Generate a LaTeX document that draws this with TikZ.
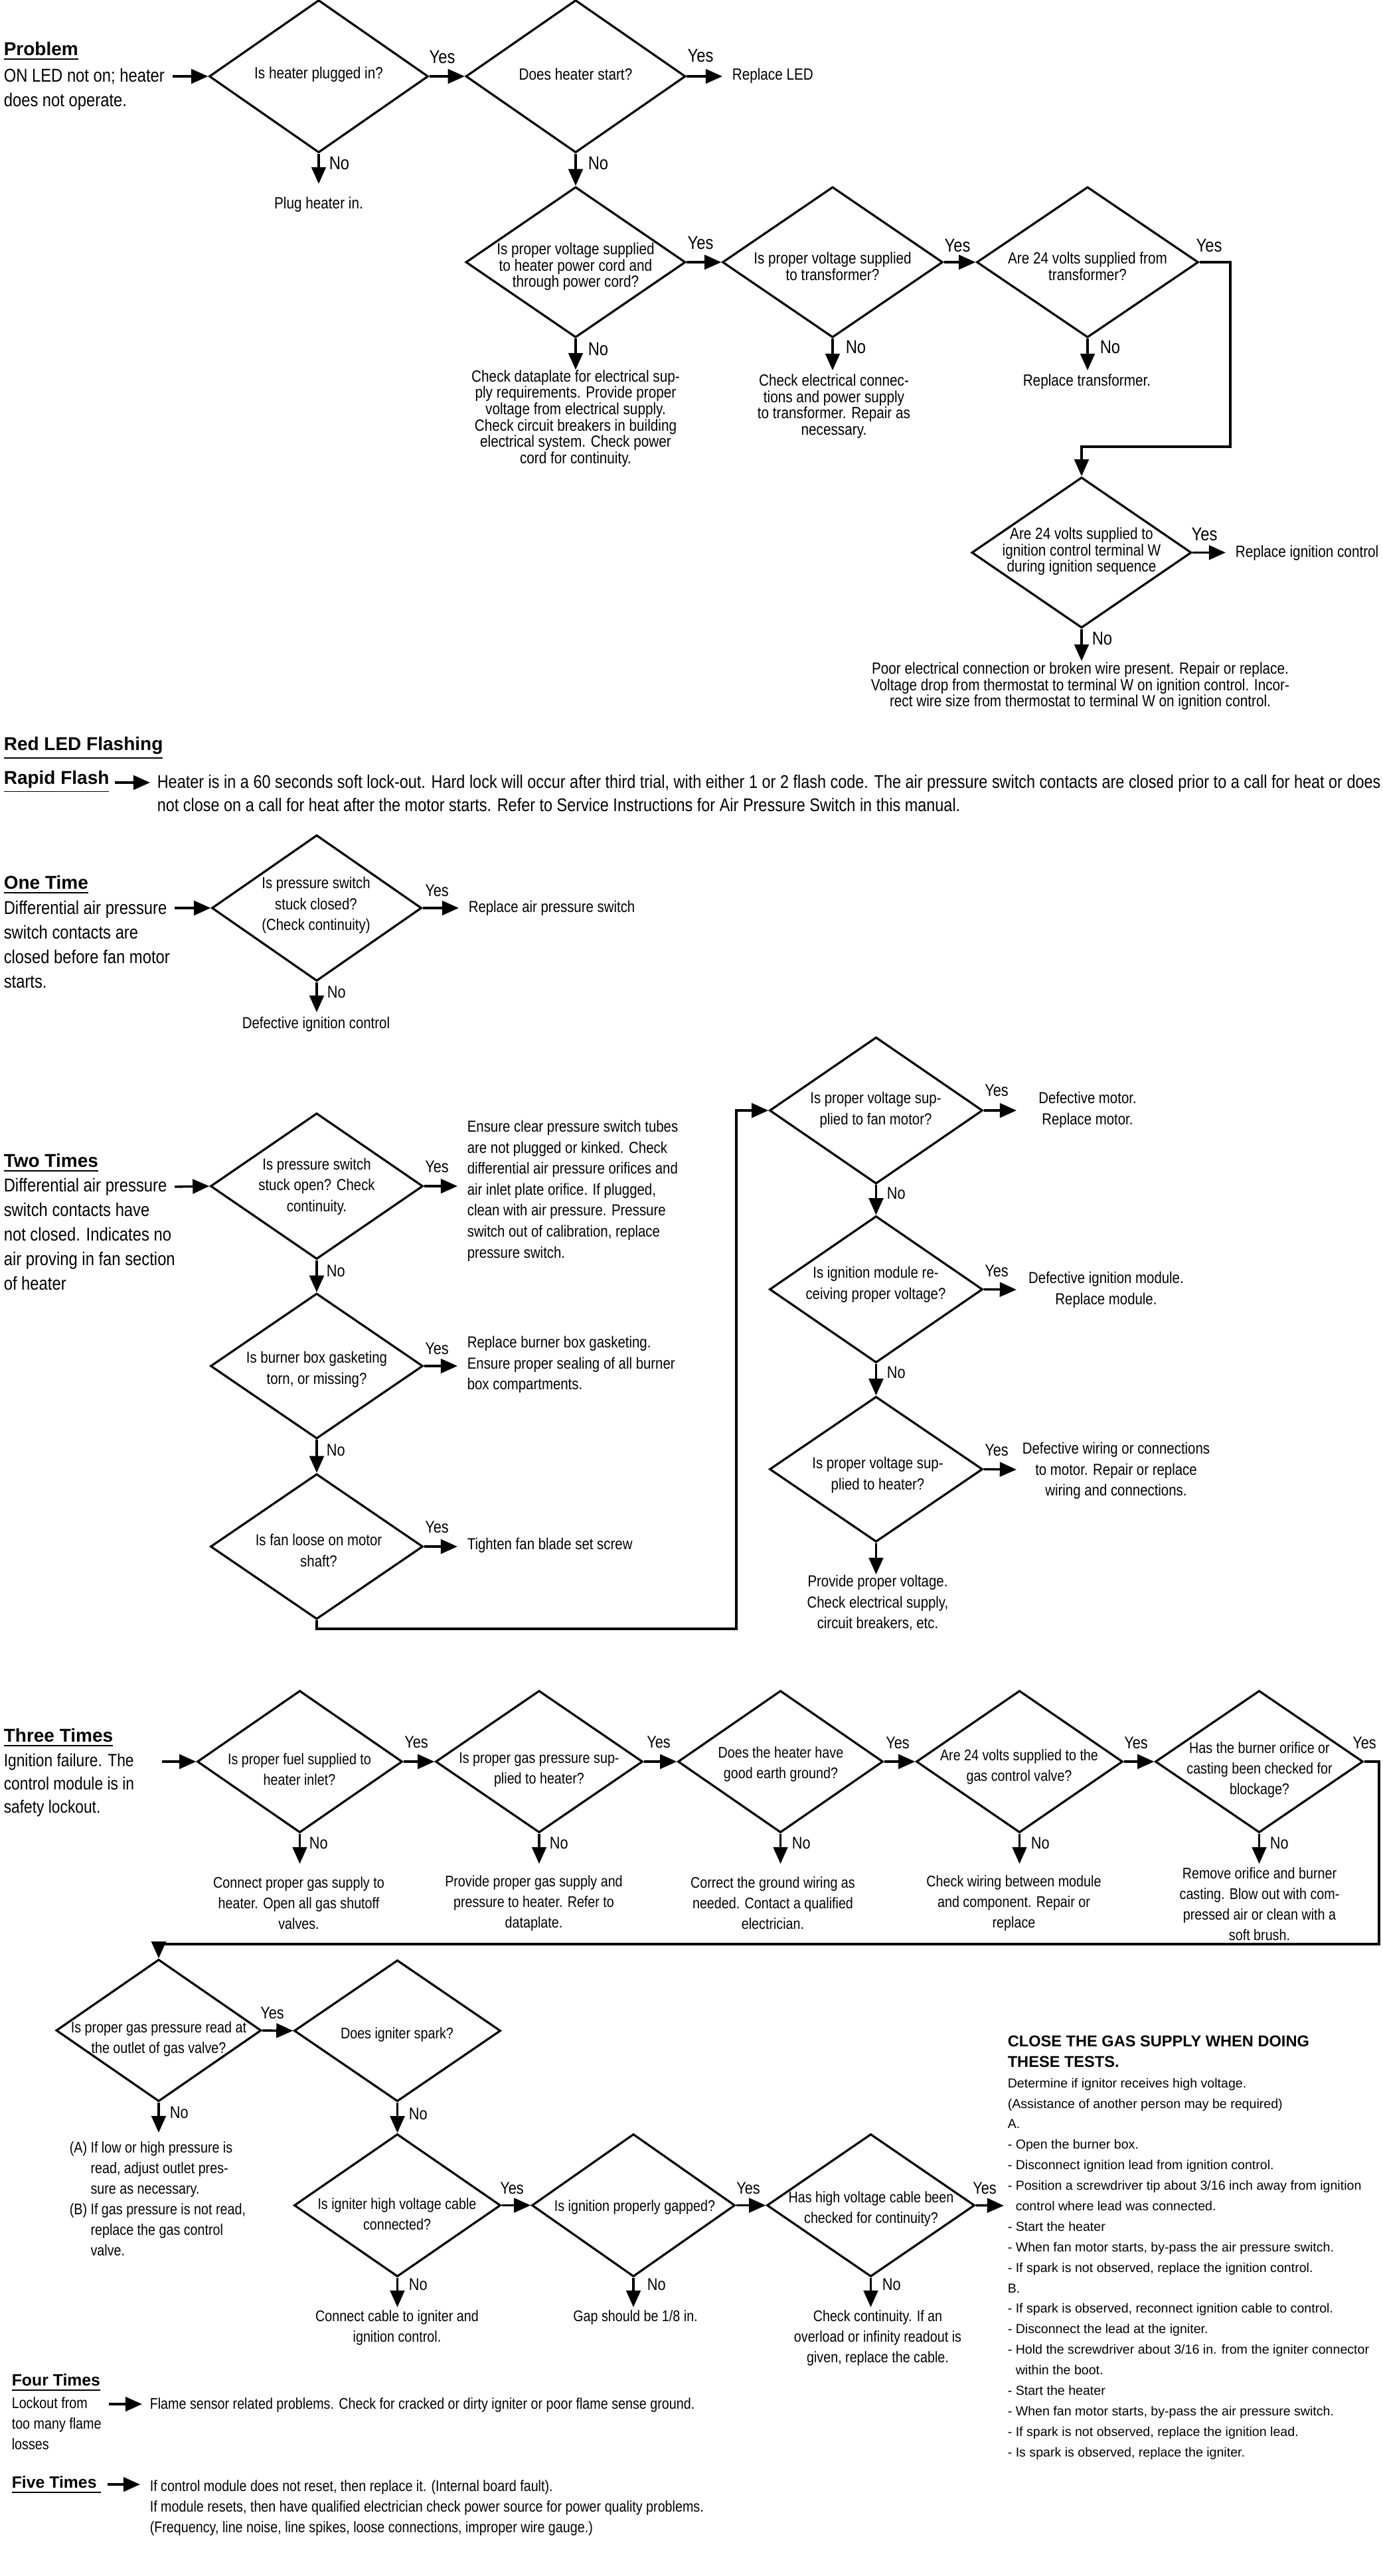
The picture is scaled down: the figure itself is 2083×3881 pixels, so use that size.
\documentclass[tikz,border=0pt]{standalone}
\usepackage{fontspec}
\setmainfont{Liberation Sans}
\newfontfamily\nf[FakeStretch=0.85]{Liberation Sans}
\usetikzlibrary{shapes.geometric,arrows.meta}
\newcommand{\fs}[2]{\fontsize{#1}{#2}\selectfont}
\begin{document}
\begin{tikzpicture}[x=0.25pt,y=-0.25pt,
  dia/.style 2 args={draw, diamond, line width=0.8pt, inner sep=0pt, minimum width=#1*0.25pt, minimum height=#2*0.25pt},
  arr/.style={line width=0.85pt, -{Triangle[length=6.3pt,width=5.4pt]}},
  lnk/.style={line width=0.85pt},
  qT/.style={align=center, inner sep=0pt, font=\nf\fs{6.1}{6.15}},
  sideT/.style={align=left, inner xsep=3.5pt, inner ysep=0pt, font=\nf\fs{6.1}{6.15}},
  qM/.style={align=center, inner sep=0pt, font=\nf\fs{6}{7.9}},
  sideM/.style={align=left, inner xsep=3.5pt, inner ysep=0pt, font=\nf\fs{6}{7.9}},
  qB/.style={align=center, inner sep=0pt, font=\nf\fs{5.8}{7.75}},
  desc/.style={align=left, inner sep=0pt, font=\nf\fs{7}{9.2}},
  descB/.style={align=left, inner sep=0pt, font=\nf\fs{6.7}{8.75}},
  head/.style={inner sep=0pt, font=\bfseries\fs{7}{8}},
  headS/.style={inner sep=0pt, font=\bfseries\fs{6.2}{7}},
  labT/.style={inner sep=0pt, font=\nf\fs{7}{7}},
  labM/.style={inner sep=0pt, font=\nf\fs{6.4}{6.4}},
  closeT/.style={align=left, inner sep=0pt, font=\fs{4.9}{7.72}}
]
\fill[white] (0,0) rectangle (2083,3881);
\useasboundingbox (0,0) rectangle (2083,3881);

% ================= Problem =================
\node[head,anchor=west] (hProb) at (5,77) {\underline{Problem}};
\node[desc,anchor=west] (tProb) at (5,134.5) {ON LED not on; heater\\does not operate.};
\coordinate (p0) at (260,115);
\node[dia={330}{230}] (d1) at (480,115) {};
\node[qT] (d1t) at (480,112) {Is heater plugged in?};
\node[dia={331}{230}] (d2) at (867,115) {};
\node[qT] (d2t) at (867,112) {Does heater start?};
\draw[arr] (p0) -- (d1.west);
\draw[arr] (d1.east) -- (d2.west);
\node[labT] at (666,86) {Yes};
\node[sideT,anchor=west] (r2) at (1088,114) {Replace LED};
\draw[arr] (d2.east) -- (d2.east -| r2.west);
\node[labT] at (1055,84) {Yes};
\coordinate (n1) at (480,277);
\draw[arr] (d1.south) -- (n1);
\node[labT,anchor=west] at (495,246) {No};
\node[qT] (r1) at (480,308) {Plug heater in.};

\node[dia={331}{227}] (d3) at (867,395) {};
\node[qT] at (867,402) {Is proper voltage supplied\\to heater power cord and\\through power cord?};
\draw[arr] (d2.south) -- (d3.north);
\node[labT,anchor=west] at (885,246) {No};
\coordinate (n3) at (867,557);
\draw[arr] (d3.south) -- (n3);
\node[labT,anchor=west] at (885,526) {No};
\node[qT] (r3) at (867,630.5) {Check dataplate for electrical sup-\\ply requirements. Provide proper\\voltage from electrical supply.\\Check circuit breakers in building\\electrical system. Check power\\cord for continuity.};

\node[dia={332}{227}] (d4) at (1254,395) {};
\node[qT] at (1254,401.5) {Is proper voltage supplied\\to transformer?};
\draw[arr] (d3.east) -- (d4.west);
\node[labT] at (1055,366) {Yes};
\coordinate (n4) at (1254,558);
\draw[arr] (d4.south) -- (n4);
\node[labT,anchor=west] at (1273,523) {No};
\node[qT] (r4) at (1256,612) {Check electrical connec-\\tions and power supply\\to transformer. Repair as\\necessary.};

\node[dia={334}{227}] (d5) at (1638,395) {};
\node[qT] at (1638,401.5) {Are 24 volts supplied from\\transformer?};
\draw[arr] (d4.east) -- (d5.west);
\node[labT] at (1442,370) {Yes};
\coordinate (n5) at (1638,558);
\draw[arr] (d5.south) -- (n5);
\node[labT,anchor=west] at (1656,523) {No};
\node[qT] (r5) at (1637,575) {Replace transformer.};

\node[dia={331}{227}] (d6) at (1629,832.5) {};
\node[qT] at (1629,831) {Are 24 volts supplied to\\ignition control terminal W\\during ignition sequence};
\coordinate (b1) at (1853,673);
\draw[arr] (d5.east) -| (b1) -| (d6.north);
\node[labT] at (1821,370) {Yes};
\node[sideT,anchor=west] (r6) at (1846,833) {Replace ignition control};
\draw[arr] (d6.east) -- (d6.east -| r6.west);
\node[labT] at (1814,805) {Yes};
\coordinate (n6) at (1629,996);
\draw[arr] (d6.south) -- (n6);
\node[labT,anchor=west] at (1644,962) {No};
\node[qT] (r6b) at (1627,1034) {Poor electrical connection or broken wire present. Repair or replace.\\Voltage drop from thermostat to terminal W on ignition control. Incor-\\rect wire size from thermostat to terminal W on ignition control.};

% ================= Red LED Flashing =================
\node[head,anchor=west] (hRed) at (5,1127) {\underline{Red LED Flashing}};
\node[head,anchor=west] (hRapid) at (5,1178) {\underline{Rapid Flash}};
\coordinate (pR) at (173,1179);
\node[align=left, inner xsep=2.5pt, inner ysep=0pt, font=\nf\fs{6.9}{8.75}, anchor=west] (tRapid) at (226,1195.5) {Heater is in a 60 seconds soft lock-out. Hard lock will occur after third trial, with either 1 or 2 flash code. The air pressure switch contacts are closed prior to a call for heat or does\\not close on a call for heat after the motor starts. Refer to Service Instructions for Air Pressure Switch in this manual.};
\draw[arr] (pR) -- (pR -| tRapid.west);

% ================= One Time =================
\node[head,anchor=west] (hOne) at (5,1333) {\underline{One Time}};
\node[desc,anchor=west] (tOne) at (5,1423) {Differential air pressure\\switch contacts are\\closed before fan motor\\starts.};
\coordinate (p7) at (263,1368);
\node[dia={316}{220}] (d7) at (477,1368) {};
\node[qM] at (476,1364) {Is pressure switch\\stuck closed?\\(Check continuity)};
\draw[arr] (p7) -- (d7.west);
\node[sideM,anchor=west] (r7) at (691,1368) {Replace air pressure switch};
\draw[arr] (d7.east) -- (d7.east -| r7.west);
\node[labM] at (658,1342) {Yes};
\coordinate (n7) at (477,1525);
\draw[arr] (d7.south) -- (n7);
\node[labM,anchor=west] at (492,1495) {No};
\node[qM] (r7b) at (476,1543) {Defective ignition control};

% ================= Two Times =================
\node[head,anchor=west] (hTwo) at (5,1752) {\underline{Two Times}};
\node[desc,anchor=west] (tTwo) at (5,1859.5) {Differential air pressure\\switch contacts have\\not closed. Indicates no\\air proving in fan section\\of heater};
\coordinate (p8) at (263,1788);
\node[dia={320}{220}] (d8) at (477,1787) {};
\node[qM] at (477,1787.5) {Is pressure switch\\stuck open? Check\\continuity.};
\draw[arr] (p8) -- (d8.west);
\node[sideM,anchor=west] (r8) at (689,1794) {Ensure clear pressure switch tubes\\are not plugged or kinked. Check\\differential air pressure orifices and\\air inlet plate orifice. If plugged,\\clean with air pressure. Pressure\\switch out of calibration, replace\\pressure switch.};
\draw[arr] (d8.east) -- (d8.east -| r8.west);
\node[labM] at (658,1758) {Yes};

\node[dia={320}{219}] (d9) at (477,2058) {};
\node[qM] at (477,2063) {Is burner box gasketing\\torn, or missing?};
\draw[arr] (d8.south) -- (d9.north);
\node[labM,anchor=west] at (491,1915) {No};
\node[sideM,anchor=west] (r9) at (689,2056) {Replace burner box gasketing.\\Ensure proper sealing of all burner\\box compartments.};
\draw[arr] (d9.east) -- (d9.east -| r9.west);
\node[labM] at (658,2032) {Yes};

\node[dia={320}{219}] (d10) at (477,2330) {};
\node[qM] at (480,2336) {Is fan loose on motor\\shaft?};
\draw[arr] (d9.south) -- (d10.north);
\node[labM,anchor=west] at (491,2185) {No};
\node[sideM,anchor=west] (r10) at (689,2328) {Tighten fan blade set screw};
\draw[arr] (d10.east) -- (d10.east -| r10.west);
\node[labM] at (658,2301) {Yes};

\node[dia={321}{221}] (d11) at (1319.5,1673) {};
\node[qM] at (1319,1672) {Is proper voltage sup-\\plied to fan motor?};
\coordinate (b2) at (1109,2454);
\draw[arr] (d10.south) |- (b2) |- (d11.west);
\coordinate (y11) at (1531,1673);
\draw[arr] (d11.east) -- (y11);
\node[labM] at (1501,1643) {Yes};
\node[qM] (r11) at (1638,1672) {Defective motor.\\Replace motor.};

\node[dia={321}{221}] (d12) at (1319.5,1942.5) {};
\node[qM] at (1319,1935) {Is ignition module re-\\ceiving proper voltage?};
\draw[arr] (d11.south) -- (d12.north);
\node[labM,anchor=west] at (1335,1798) {No};
\coordinate (y12) at (1531,1943);
\draw[arr] (d12.east) -- (y12);
\node[labM] at (1501,1915) {Yes};
\node[qM] (r12) at (1666,1943) {Defective ignition module.\\Replace module.};

\node[dia={321}{219}] (d13) at (1319.5,2213.5) {};
\node[qM] at (1322,2222) {Is proper voltage sup-\\plied to heater?};
\draw[arr] (d12.south) -- (d13.north);
\node[labM,anchor=west] at (1335,2068) {No};
\coordinate (y13) at (1531,2214);
\draw[arr] (d13.east) -- (y13);
\node[labM] at (1501,2185) {Yes};
\node[qM] (r13) at (1681,2216) {Defective wiring or connections\\to motor. Repair or replace\\wiring and connections.};
\coordinate (n13) at (1319.5,2372);
\draw[arr] (d13.south) -- (n13);
\node[qM] (r13b) at (1322,2415) {Provide proper voltage.\\Check electrical supply,\\circuit breakers, etc.};

% ================= Three Times =================
\node[head,anchor=west] (hThree) at (5,2618) {\underline{Three Times}};
\node[descB,anchor=west] (tThree) at (5,2690) {Ignition failure. The\\control module is in\\safety lockout.};
\coordinate (p14) at (244,2654);
\node[dia={309}{214}] (d14) at (451.5,2654) {};
\node[qB] at (451,2666) {Is proper fuel supplied to\\heater inlet?};
\draw[arr] (p14) -- (d14.west);
\node[dia={312}{214}] (d15) at (812,2654) {};
\node[qB] at (812,2666) {Is proper gas pressure sup-\\plied to heater?};
\draw[arr] (d14.east) -- (d15.west);
\node[labM] at (627,2625) {Yes};
\node[dia={309}{214}] (d16) at (1175.5,2654) {};
\node[qB] at (1176,2658) {Does the heater have\\good earth ground?};
\draw[arr] (d15.east) -- (d16.west);
\node[labM] at (992,2625) {Yes};
\node[dia={311}{214}] (d17) at (1535.5,2654) {};
\node[qB] at (1535,2662) {Are 24 volts supplied to the\\gas control valve?};
\draw[arr] (d16.east) -- (d17.west);
\node[labM] at (1352,2626) {Yes};
\node[dia={313}{214}] (d18) at (1896.5,2654) {};
\node[qB] at (1897,2666) {Has the burner orifice or\\casting been checked for\\blockage?};
\draw[arr] (d17.east) -- (d18.west);
\node[labM] at (1711,2626) {Yes};
\node[labM] at (2055,2626) {Yes};

\coordinate (n14) at (451.5,2808);
\draw[arr] (d14.south) -- (n14);
\node[labM,anchor=west] at (465,2777) {No};
\node[qB] at (450,2867) {Connect proper gas supply to\\heater. Open all gas shutoff\\valves.};
\coordinate (n15) at (812,2808);
\draw[arr] (d15.south) -- (n15);
\node[labM,anchor=west] at (827,2777) {No};
\node[qB] at (804,2867) {Provide proper gas supply and\\pressure to heater. Refer to\\dataplate.};
\coordinate (n16) at (1175.5,2808);
\draw[arr] (d16.south) -- (n16);
\node[labM,anchor=west] at (1192,2777) {No};
\node[qB] at (1164,2867) {Correct the ground wiring as\\needed. Contact a qualified\\electrician.};
\coordinate (n17) at (1535.5,2808);
\draw[arr] (d17.south) -- (n17);
\node[labM,anchor=west] at (1552,2777) {No};
\node[qB] at (1527,2867) {Check wiring between module\\and component. Repair or\\replace};
\coordinate (n18) at (1896.5,2808);
\draw[arr] (d18.south) -- (n18);
\node[labM,anchor=west] at (1912,2777) {No};
\node[qB] at (1897,2868.5) {Remove orifice and burner\\casting. Blow out with com-\\pressed air or clean with a\\soft brush.};

% ================= gas pressure / igniter =================
\node[dia={309}{214}] (d19) at (239,3059) {};
\node[qB] at (239,3072) {Is proper gas pressure read at\\the outlet of gas valve?};
\coordinate (b3) at (2077,2929);
\draw[arr] (d18.east) -| (b3) -| (d19.north);
\node[dia={311}{213}] (d20) at (598.5,3059.5) {};
\node[qB] at (598,3065) {Does igniter spark?};
\draw[arr] (d19.east) -- (d20.west);
\node[labM] at (410,3033) {Yes};
\coordinate (n19) at (239,3213);
\draw[arr] (d19.south) -- (n19);
\node[labM,anchor=west] at (255,3183) {No};
\node[qB,align=left,anchor=west] (tAB) at (104,3314.5) {(A) If low or high pressure is\\\phantom{(A) }read, adjust outlet pres-\\\phantom{(A) }sure as necessary.\\(B) If gas pressure is not read,\\\phantom{(B) }replace the gas control\\\phantom{(B) }valve.};

\node[dia={311}{215}] (d21) at (598.5,3322.5) {};
\node[qB] at (598,3336) {Is igniter high voltage cable\\connected?};
\draw[arr] (d20.south) -- (d21.north);
\node[labM,anchor=west] at (615,3185) {No};
\node[dia={306}{215}] (d22) at (954,3322.5) {};
\node[qB] at (956,3325) {Is ignition properly gapped?};
\draw[arr] (d21.east) -- (d22.west);
\node[labM] at (771,3297) {Yes};
\node[dia={313}{215}] (d23) at (1311.5,3322.5) {};
\node[qB] at (1312,3328) {Has high voltage cable been\\checked for continuity?};
\draw[arr] (d22.east) -- (d23.west);
\node[labM] at (1127,3297) {Yes};
\coordinate (y23) at (1512,3323);
\draw[arr] (d23.east) -- (y23);
\node[labM] at (1483,3297) {Yes};

\coordinate (n21) at (598.5,3476);
\draw[arr] (d21.south) -- (n21);
\node[labM,anchor=west] at (615,3442) {No};
\node[qB] at (598,3506.5) {Connect cable to igniter and\\ignition control.};
\coordinate (n22) at (954,3476);
\draw[arr] (d22.south) -- (n22);
\node[labM,anchor=west] at (974,3442) {No};
\node[qB] at (957,3491) {Gap should be 1/8 in.};
\coordinate (n23) at (1311.5,3476);
\draw[arr] (d23.south) -- (n23);
\node[labM,anchor=west] at (1328,3442) {No};
\node[qB] at (1322,3522) {Check continuity. If an\\overload or infinity readout is\\given, replace the cable.};

\node[closeT,anchor=west] (tClose) at (1517,3386) {{\bfseries\fontsize{5.9}{7.72}\selectfont CLOSE THE GAS SUPPLY WHEN DOING}\\{\bfseries\fontsize{5.9}{7.72}\selectfont THESE TESTS.}\\Determine if ignitor receives high voltage.\\(Assistance of another person may be required)\\A.\\- Open the burner box.\\- Disconnect ignition lead from ignition control.\\- Position a screwdriver tip about 3/16 inch away from ignition\\\phantom{- }control where lead was connected.\\- Start the heater\\- When fan motor starts, by-pass the air pressure switch.\\- If spark is not observed, replace the ignition control.\\B.\\- If spark is observed, reconnect ignition cable to control.\\- Disconnect the lead at the igniter.\\- Hold the screwdriver about 3/16 in. from the igniter connector\\\phantom{- }within the boot.\\- Start the heater\\- When fan motor starts, by-pass the air pressure switch.\\- If spark is not observed, replace the ignition lead.\\- Is spark is observed, replace the igniter.};

% ================= Four / Five Times =================
\node[headS,anchor=west] (hFour) at (17,3590) {\underline{Four Times}};
\node[align=left, inner sep=0pt, font=\nf\fs{5.8}{7.75}, anchor=west] (tFour) at (17,3651) {Lockout from\\too many flame\\losses};
\coordinate (p4) at (164,3622);
\node[align=left, inner xsep=2.75pt, inner ysep=0pt, font=\nf\fs{5.8}{7.75}, anchor=west] (rFour) at (214,3623) {Flame sensor related problems. Check for cracked or dirty igniter or poor flame sense ground.};
\draw[arr] (p4) -- (p4 -| rFour.west);

\node[headS,anchor=west] (hFive) at (17,3744) {\underline{Five Times\ }};
\coordinate (p5) at (162,3743);
\node[align=left, inner xsep=3.5pt, inner ysep=0pt, font=\nf\fs{5.8}{7.75}, anchor=west] (rFive) at (211,3778) {If control module does not reset, then replace it. (Internal board fault).\\If module resets, then have qualified electrician check power source for power quality problems.\\(Frequency, line noise, line spikes, loose connections, improper wire gauge.)};
\draw[arr] (p5) -- (p5 -| rFive.west);
\end{tikzpicture}
\end{document}
